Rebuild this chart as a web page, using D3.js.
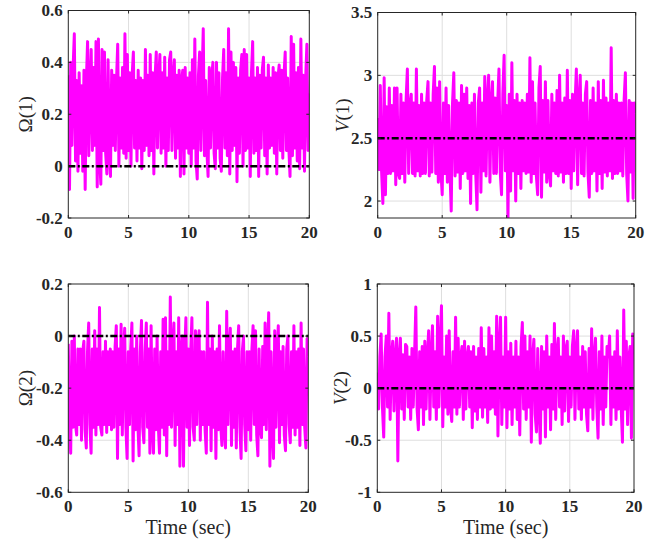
<!DOCTYPE html>
<html><head><meta charset="utf-8">
<script src="https://cdn.jsdelivr.net/npm/d3@7"></script>
<style>body{margin:0;background:#fff}svg{display:block}</style>
</head><body>
<svg id="c" width="660" height="539"></svg>
<script>
// sample step of the time axis (sec)
const dt = 0.1;
const xTicks = [0, 5, 10, 15, 20];

const omega1 = [
0.35,-0.09,0.40,0.08,0.38,0.51,0.02,0.33,-0.02,0.36,
0.05,0.31,-0.02,0.37,-0.09,0.33,0.48,0.04,0.30,0.45,
0.06,0.38,0.08,0.48,-0.08,0.49,0.03,-0.07,0.45,0.06,
0.44,0.05,-0.03,0.41,0.06,-0.04,0.37,0.08,0.35,0.06,
0.33,0.47,0.00,0.34,0.07,0.38,0.05,0.51,0.03,0.43,
0.06,0.36,0.00,0.35,0.44,0.07,0.33,0.02,0.37,0.07,
0.34,-0.01,0.33,0.06,0.45,0.08,0.35,0.04,0.43,0.06,
0.36,-0.03,0.34,0.44,0.07,0.33,0.43,0.05,0.36,0.07,
0.42,0.00,0.34,0.06,0.41,0.44,0.06,0.34,0.41,0.03,
0.35,0.07,0.37,-0.04,0.33,0.37,-0.03,0.38,0.07,0.34,
0.05,0.36,0.00,0.41,0.07,0.49,0.02,-0.05,0.35,0.44,
0.06,0.34,0.53,0.04,0.33,0.06,-0.04,0.38,0.07,0.34,
0.40,0.05,-0.01,0.40,0.07,0.36,0.03,-0.02,0.34,0.45,
0.07,0.36,0.04,0.53,-0.03,0.44,0.06,0.40,0.08,0.38,
-0.06,0.34,0.05,0.37,0.43,0.00,0.45,0.06,0.43,0.07,
0.34,-0.04,0.36,0.48,0.05,0.34,0.06,0.38,-0.04,0.35,
0.07,0.37,0.42,0.04,0.34,-0.03,0.39,0.07,0.34,0.08,
0.38,0.05,0.36,-0.03,0.34,0.39,0.06,0.37,0.03,0.35,
0.44,0.06,0.34,0.07,-0.04,0.50,0.04,0.47,0.07,0.36,
0.02,0.38,-0.01,0.49,0.07,0.35,-0.02,0.34,0.47,0.06,
0.28];

const v1 = [
2.66,2.25,2.92,2.24,1.98,2.98,2.05,2.75,2.22,2.90,
2.22,2.76,2.24,2.90,2.13,2.90,2.22,2.18,2.85,2.22,
2.78,2.15,2.80,3.05,2.22,2.76,2.85,2.22,2.78,2.20,
3.05,2.24,2.76,2.20,2.85,2.22,2.78,2.22,2.80,2.95,
2.20,2.78,2.23,2.85,3.07,2.22,2.90,2.15,2.95,2.24,
2.05,2.78,2.22,2.90,2.15,2.76,2.24,1.92,2.78,3.02,
2.20,2.80,2.23,2.78,2.10,2.92,2.22,2.85,2.24,2.90,
2.18,2.76,1.98,2.78,2.22,2.85,2.22,1.93,2.78,2.90,
2.07,2.78,2.24,2.99,2.20,2.80,3.00,2.15,2.78,2.95,
2.22,2.82,2.22,2.78,3.05,2.23,2.05,2.85,3.16,2.24,
2.76,1.87,2.85,2.08,3.10,2.24,2.80,2.00,2.85,2.22,
2.78,2.10,2.80,2.24,2.78,2.22,2.85,2.23,3.14,2.15,
2.95,2.22,2.78,2.20,2.05,2.90,3.07,2.03,2.80,2.23,
2.95,2.15,2.80,2.22,2.12,2.85,2.24,2.78,2.22,2.88,
2.20,3.00,2.23,2.78,2.15,2.82,2.22,3.04,2.22,2.80,
2.10,2.85,2.24,2.78,3.05,2.13,2.80,3.00,2.22,2.78,
2.20,2.85,2.95,2.23,2.03,2.80,2.22,2.90,2.24,2.78,
2.08,2.95,2.22,2.80,2.10,2.96,2.23,2.82,2.20,2.78,
2.24,3.22,2.18,2.80,2.22,2.85,2.22,2.78,2.24,2.78,
2.20,2.80,3.02,2.22,2.00,2.80,2.23,2.78,2.02,2.78,
2.70];

const omega2 = [
-0.03,-0.34,-0.45,-0.02,-0.35,0.00,-0.34,-0.38,-0.05,-0.34,
-0.05,-0.40,-0.06,-0.02,-0.36,-0.43,-0.06,0.05,-0.34,-0.45,
-0.05,-0.35,0.02,-0.38,-0.05,-0.34,0.11,-0.35,-0.38,-0.06,
-0.34,-0.02,-0.37,-0.06,-0.34,-0.05,-0.36,-0.06,-0.35,-0.04,
0.04,-0.47,-0.05,-0.34,0.045,-0.38,-0.06,0.03,-0.35,-0.47,
-0.06,-0.34,-0.05,0.05,-0.48,-0.05,-0.36,0.00,-0.34,-0.46,
-0.06,0.06,-0.35,-0.41,-0.06,0.05,-0.35,-0.05,-0.45,0.04,
-0.34,-0.45,-0.05,-0.36,0.00,-0.34,-0.45,-0.06,-0.35,0.065,
-0.38,0.07,-0.46,-0.06,-0.34,0.15,-0.35,-0.05,0.05,-0.42,
-0.06,-0.34,0.07,-0.50,-0.06,0.00,-0.50,-0.07,0.07,-0.35,
-0.05,-0.42,-0.06,0.07,-0.35,-0.40,0.02,-0.34,-0.05,0.02,
-0.40,-0.06,-0.34,-0.06,-0.36,-0.45,0.13,-0.34,-0.05,-0.44,
0.00,-0.35,-0.06,-0.47,-0.05,-0.36,0.04,-0.34,-0.42,-0.06,
-0.35,-0.43,0.095,-0.34,-0.06,0.03,-0.42,-0.06,-0.35,-0.05,
-0.43,-0.05,0.04,-0.35,-0.47,-0.06,0.00,-0.34,-0.44,-0.06,
-0.36,-0.06,-0.40,-0.05,0.04,-0.34,0.02,-0.38,-0.46,-0.05,
-0.35,-0.39,-0.04,-0.34,0.05,-0.36,-0.06,0.09,-0.50,-0.06,
-0.34,-0.47,0.02,-0.35,-0.06,0.04,-0.41,-0.06,-0.34,-0.04,
-0.38,-0.44,-0.05,0.00,-0.34,-0.41,-0.06,-0.35,0.04,-0.38,
-0.06,-0.35,-0.05,-0.42,0.05,-0.34,-0.05,-0.35,-0.43,-0.01,
-0.08];

const v2 = [
0.15,-0.20,0.30,0.52,-0.18,-0.47,0.30,0.50,-0.18,0.72,
-0.30,0.30,0.45,-0.22,0.30,0.48,-0.70,0.30,0.48,-0.20,
0.32,-0.30,0.42,0.40,-0.18,0.30,-0.30,0.38,-0.18,0.30,
0.78,-0.20,-0.40,0.35,-0.18,0.40,-0.35,0.45,-0.20,0.30,
0.55,-0.30,0.30,0.60,-0.18,0.35,-0.30,0.69,-0.18,0.40,
0.79,-0.37,0.30,-0.18,0.50,-0.25,0.55,-0.18,-0.32,0.35,
-0.18,0.68,-0.25,0.48,-0.18,0.30,0.40,-0.30,0.45,-0.20,
0.30,0.40,-0.18,0.35,-0.38,0.40,-0.22,0.30,-0.30,0.38,
-0.18,0.58,-0.28,0.38,-0.18,0.30,-0.33,0.58,-0.20,0.50,
-0.18,0.35,-0.25,0.69,-0.46,0.40,0.68,-0.35,0.30,-0.18,
0.68,-0.38,0.35,-0.20,0.43,-0.35,0.30,-0.18,0.45,-0.30,
0.30,-0.45,0.40,0.63,-0.20,0.50,-0.30,0.35,-0.18,0.50,
-0.52,0.30,0.47,-0.25,-0.42,0.38,-0.18,-0.53,0.40,-0.20,
0.35,-0.47,0.50,-0.18,0.30,-0.40,0.42,-0.20,0.62,-0.30,
0.35,0.48,-0.18,0.30,-0.35,0.50,-0.22,0.38,0.45,-0.32,
0.30,-0.18,0.40,0.55,-0.30,0.35,0.55,-0.20,0.30,-0.30,
0.40,-0.18,0.35,-0.25,-0.41,0.38,-0.18,0.57,-0.30,0.30,
0.48,-0.18,-0.48,0.35,-0.20,0.50,-0.35,0.30,-0.18,0.40,
0.30,0.50,-0.35,0.30,-0.18,0.35,-0.30,0.55,-0.20,0.30,
-0.18,-0.52,0.75,-0.20,0.45,-0.35,0.30,0.40,-0.48,0.52,
0.35];

const omega1Ticks = [-0.2, 0, 0.2, 0.4, 0.6];
const v1Ticks = [2, 2.5, 3, 3.5];
const omega2Ticks = [-0.6, -0.4, -0.2, 0, 0.2];
const v2Ticks = [-1, -0.5, 0, 0.5, 1];
const refValues = [0, 2.5, 0, 0];
const yLabelSymbols = ["Ω", "V", "Ω", "V"];
const yLabelIdx = ["(1)", "(1)", "(2)", "(2)"];
const xLabel = "Time (sec)";

const panels = [
  {data: omega1, ticks: omega1Ticks, dom: [-0.2, 0.6], box: [68.3, 10.5, 309.3, 218], lx: 25, italic: false, xl: false},
  {data: v1, ticks: v1Ticks, dom: [1.865, 3.5], box: [377.7, 12.5, 635.7, 218], lx: 342, italic: true, xl: false},
  {data: omega2, ticks: omega2Ticks, dom: [-0.6, 0.2], box: [68.3, 284, 308.3, 492.3], lx: 25, italic: false, xl: true},
  {data: v2, ticks: v2Ticks, dom: [-1, 1], box: [377.3, 284, 634, 492.3], lx: 340, italic: true, xl: true}
];

const svg = d3.select("#c");
const axisColor = "#262626";
const tickFont = "'Liberation Serif','Times New Roman',serif";

panels.forEach((p, i) => {
  const [x0, y0, x1, y1] = p.box;
  const x = d3.scaleLinear().domain([0, 20]).range([x0, x1]);
  const y = d3.scaleLinear().domain(p.dom).range([y1, y0]);
  const g = svg.append("g");

  // grid
  g.selectAll(".gx").data(xTicks.slice(1, -1)).join("line")
    .attr("x1", d => x(d)).attr("x2", d => x(d)).attr("y1", y0).attr("y2", y1)
    .attr("stroke", "#dedede").attr("stroke-width", 1);
  g.selectAll(".gy").data(p.ticks.filter(t => y(t) > y0 + 1 && y(t) < y1 - 1)).join("line")
    .attr("x1", x0).attr("x2", x1).attr("y1", d => y(d)).attr("y2", d => y(d))
    .attr("stroke", "#dedede").attr("stroke-width", 1);

  // clip
  const cid = "clip" + i;
  svg.append("clipPath").attr("id", cid).append("rect")
    .attr("x", x0).attr("y", y0).attr("width", x1 - x0).attr("height", y1 - y0);

  const line = d3.line().x((d, k) => x(k * dt)).y(d => y(d));
  g.append("path").datum(p.data).attr("d", line)
    .attr("clip-path", `url(#${cid})`)
    .attr("fill", "none").attr("stroke", "#ff00ff").attr("stroke-width", 3)
    .attr("stroke-linejoin", "round");

  // reference dash-dot
  g.append("line").attr("x1", x(0)).attr("x2", x(20))
    .attr("y1", y(refValues[i])).attr("y2", y(refValues[i]))
    .attr("stroke", "#000").attr("stroke-width", 2.5)
    .attr("stroke-dasharray", "7,2.5,2,2.5");

  // box
  g.append("rect").attr("x", x0).attr("y", y0).attr("width", x1 - x0).attr("height", y1 - y0)
    .attr("fill", "none").attr("stroke", axisColor).attr("stroke-width", 1);

  // ticks (inward, both sides)
  const tl = 3;
  xTicks.forEach(t => {
    g.append("line").attr("x1", x(t)).attr("x2", x(t)).attr("y1", y1).attr("y2", y1 - tl).attr("stroke", axisColor);
    g.append("line").attr("x1", x(t)).attr("x2", x(t)).attr("y1", y0).attr("y2", y0 + tl).attr("stroke", axisColor);
    g.append("text").attr("x", x(t)).attr("y", y1 + 19.5)
      .attr("text-anchor", "middle").attr("font-family", tickFont).attr("font-weight", "bold")
      .attr("font-size", 17).attr("fill", axisColor).text(String(t));
  });
  p.ticks.forEach(t => {
    g.append("line").attr("x1", x0).attr("x2", x0 + tl).attr("y1", y(t)).attr("y2", y(t)).attr("stroke", axisColor);
    g.append("line").attr("x1", x1).attr("x2", x1 - tl).attr("y1", y(t)).attr("y2", y(t)).attr("stroke", axisColor);
    g.append("text").attr("x", x0 - 5.5).attr("y", y(t)).attr("dy", "0.35em")
      .attr("text-anchor", "end").attr("font-family", tickFont).attr("font-weight", "bold")
      .attr("font-size", 17).attr("fill", axisColor).text(String(t));
  });

  // y label
  const cy = (y0 + y1) / 2;
  const lab = g.append("text").attr("transform", `translate(${p.lx},${cy}) rotate(-90)`)
    .attr("text-anchor", "middle").attr("dominant-baseline", "central")
    .attr("font-family", tickFont).attr("font-size", 19).attr("fill", axisColor);
  lab.append("tspan").attr("font-style", p.italic ? "italic" : "normal").text(yLabelSymbols[i]);
  lab.append("tspan").text(yLabelIdx[i]);

  if (p.xl) {
    g.append("text").attr("x", (x0 + x1) / 2).attr("y", 534)
      .attr("text-anchor", "middle").attr("font-family", tickFont)
      .attr("font-size", 20).attr("fill", axisColor).text(xLabel);
  }
});
</script>
</body></html>
